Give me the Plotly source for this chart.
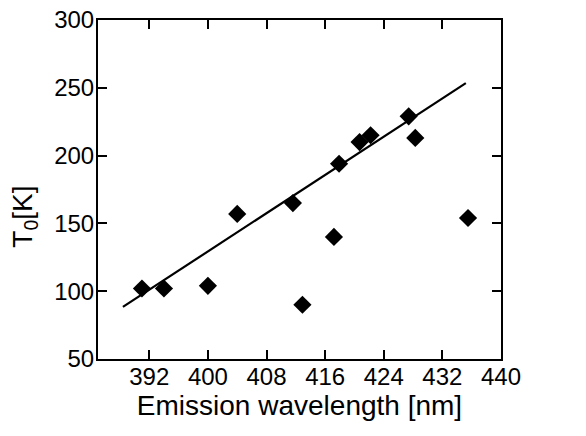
import plotly.graph_objects as go

wavelength = [391.0, 394.0, 400.0, 404.0, 411.6, 412.9, 417.2, 417.9, 420.7, 422.2, 427.4, 428.3, 435.5]
t0 = [102, 102, 104, 157, 165, 90, 140, 194, 210, 215, 229, 213, 154]
fit_x = [388.4, 435.2]
fit_y = [88.4, 253.5]

x_ticks = [392, 400, 408, 416, 424, 432, 440]
y_ticks = [50, 100, 150, 200, 250, 300]

fig = go.Figure()
fig.add_trace(go.Scatter(x=fit_x, y=fit_y, mode="lines",
                         line=dict(color="black", width=2.2), showlegend=False))
fig.add_trace(go.Scatter(x=wavelength, y=t0, mode="markers",
                         marker=dict(symbol="diamond", size=14, color="black"),
                         showlegend=False))

axis_common = dict(showline=True, linecolor="black", linewidth=2, mirror="ticks",
                   ticks="inside", ticklen=9, tickwidth=2, tickcolor="black",
                   showgrid=False, zeroline=False, automargin=False,
                   tickfont=dict(family="Liberation Sans, Arial", size=24, color="black"))

fig.update_xaxes(range=[385, 440], tickvals=x_ticks, ticklabelstandoff=-5,
                 title=dict(text="Emission wavelength [nm]", standoff=2,
                            font=dict(family="Liberation Sans, Arial", size=28, color="black")),
                 **axis_common)
fig.update_yaxes(range=[50, 300], tickvals=y_ticks, ticklabelstandoff=-3,
                 **axis_common)

fig.add_annotation(text="T<sub>0</sub>[K]", xref="paper", yref="paper",
                   x=-0.181, y=0.42, xanchor="center", yanchor="middle",
                   textangle=-90, showarrow=False,
                   font=dict(family="Liberation Sans, Arial", size=28, color="black"))

fig.update_layout(width=586, height=436, margin=dict(l=98, r=85, t=20, b=77),
                  plot_bgcolor="white", paper_bgcolor="white")

fig.write_html("out.html")
